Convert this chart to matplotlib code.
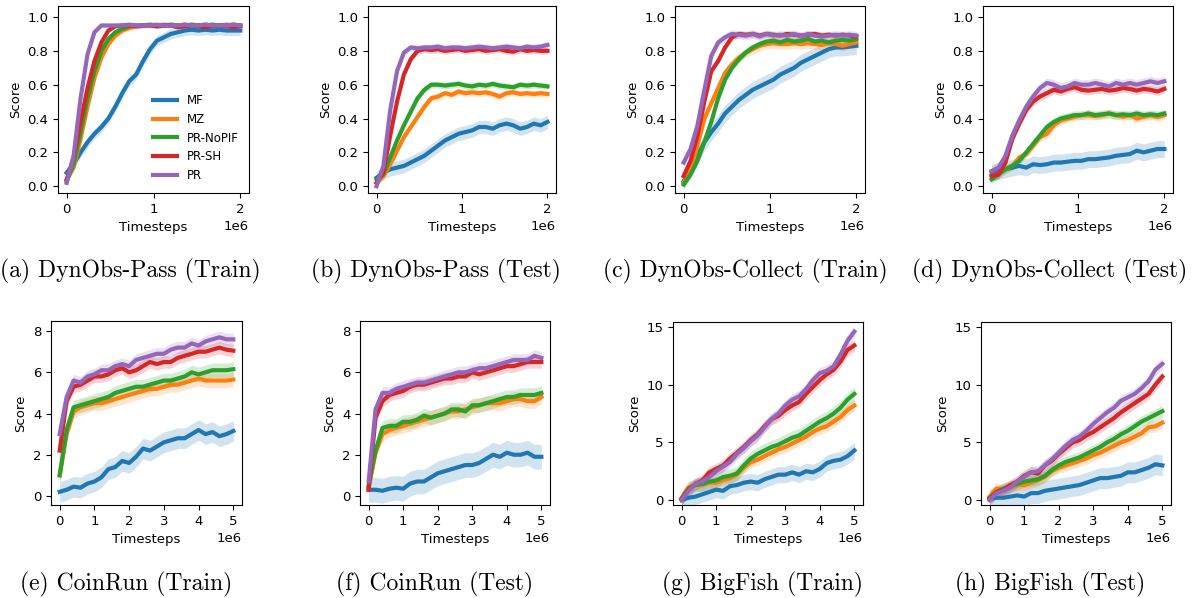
import matplotlib
matplotlib.use("Agg")
import matplotlib.pyplot as plt
import numpy as np

# ---------------- data ----------------
methods = ["MF", "MZ", "PR-NoPIF", "PR-SH", "PR"]
colors = ["#1f77b4", "#ff7f0e", "#2ca02c", "#d62728", "#9467bd"]

t_short = np.linspace(0, 2e6, 26)   # DynObs panels
t_long = np.linspace(0, 5e6, 26)    # Procgen panels

# (a) DynObs-Pass (Train)
a_mf = [0.08, 0.13, 0.20, 0.26, 0.31, 0.35, 0.40, 0.47, 0.55, 0.62, 0.66, 0.74, 0.81,
        0.86, 0.88, 0.90, 0.91, 0.92, 0.925, 0.92, 0.925, 0.92, 0.925, 0.92, 0.92, 0.92]
a_mz = [0.04, 0.11, 0.28, 0.47, 0.64, 0.76, 0.84, 0.89, 0.92, 0.935, 0.945, 0.95, 0.95,
        0.95, 0.955, 0.95, 0.95, 0.955, 0.95, 0.95, 0.955, 0.95, 0.95, 0.955, 0.95, 0.95]
a_nopif = [0.03, 0.13, 0.32, 0.52, 0.68, 0.80, 0.87, 0.91, 0.93, 0.945, 0.95, 0.95, 0.955,
           0.95, 0.95, 0.955, 0.95, 0.95, 0.955, 0.95, 0.95, 0.955, 0.95, 0.95, 0.955, 0.95]
a_sh = [0.04, 0.17, 0.38, 0.58, 0.74, 0.85, 0.92, 0.945, 0.95, 0.95, 0.945, 0.95, 0.95,
        0.945, 0.95, 0.95, 0.94, 0.945, 0.95, 0.945, 0.94, 0.945, 0.95, 0.945, 0.94, 0.945]
a_pr = [0.02, 0.18, 0.52, 0.78, 0.91, 0.95, 0.95, 0.95, 0.95, 0.955, 0.95, 0.95, 0.95,
        0.955, 0.95, 0.95, 0.95, 0.955, 0.95, 0.95, 0.955, 0.95, 0.95, 0.95, 0.955, 0.95]
a_band = [0.03, 0.015, 0.015, 0.012, 0.012]

# (b) DynObs-Pass (Test)
b_mf = [0.05, 0.08, 0.10, 0.11, 0.12, 0.14, 0.16, 0.18, 0.21, 0.24, 0.27, 0.29, 0.31,
        0.32, 0.33, 0.35, 0.35, 0.34, 0.36, 0.37, 0.36, 0.34, 0.35, 0.37, 0.36, 0.38]
b_mz = [0.02, 0.06, 0.13, 0.21, 0.29, 0.35, 0.41, 0.47, 0.52, 0.53, 0.55, 0.54, 0.56,
        0.55, 0.555, 0.55, 0.555, 0.545, 0.53, 0.55, 0.555, 0.545, 0.55, 0.545, 0.55, 0.545]
b_nopif = [0.04, 0.07, 0.17, 0.27, 0.36, 0.44, 0.52, 0.57, 0.60, 0.60, 0.595, 0.60, 0.605,
           0.595, 0.59, 0.60, 0.595, 0.605, 0.595, 0.59, 0.585, 0.60, 0.595, 0.60, 0.595, 0.59]
b_sh = [0.02, 0.08, 0.30, 0.50, 0.66, 0.75, 0.80, 0.81, 0.805, 0.81, 0.80, 0.805, 0.81,
        0.80, 0.805, 0.81, 0.80, 0.805, 0.81, 0.80, 0.795, 0.81, 0.80, 0.805, 0.80, 0.80]
b_pr = [0.00, 0.12, 0.45, 0.68, 0.79, 0.82, 0.815, 0.82, 0.82, 0.825, 0.815, 0.82, 0.82,
        0.815, 0.82, 0.825, 0.82, 0.815, 0.82, 0.825, 0.82, 0.815, 0.825, 0.82, 0.825, 0.835]
b_band = [0.04, 0.02, 0.02, 0.02, 0.02]

# (c) DynObs-Collect (Train)
c_mf = [0.03, 0.10, 0.18, 0.26, 0.32, 0.37, 0.43, 0.47, 0.51, 0.54, 0.57, 0.59, 0.61,
        0.63, 0.66, 0.68, 0.70, 0.73, 0.75, 0.77, 0.79, 0.81, 0.82, 0.82, 0.825, 0.83]
c_mz = [0.02, 0.10, 0.24, 0.40, 0.49, 0.58, 0.67, 0.72, 0.76, 0.79, 0.81, 0.83, 0.84,
        0.845, 0.84, 0.84, 0.845, 0.84, 0.845, 0.84, 0.835, 0.845, 0.84, 0.83, 0.84, 0.85]
c_nopif = [0.01, 0.07, 0.15, 0.26, 0.38, 0.52, 0.63, 0.70, 0.75, 0.79, 0.82, 0.84, 0.855,
           0.86, 0.85, 0.865, 0.855, 0.86, 0.87, 0.855, 0.86, 0.85, 0.86, 0.865, 0.86, 0.87]
c_sh = [0.06, 0.15, 0.30, 0.50, 0.68, 0.74, 0.82, 0.88, 0.90, 0.895, 0.90, 0.89, 0.90,
        0.895, 0.89, 0.90, 0.895, 0.89, 0.895, 0.90, 0.89, 0.895, 0.89, 0.895, 0.89, 0.885]
c_pr = [0.14, 0.22, 0.36, 0.57, 0.77, 0.85, 0.88, 0.90, 0.895, 0.89, 0.90, 0.885, 0.90,
        0.89, 0.895, 0.89, 0.90, 0.885, 0.90, 0.89, 0.885, 0.89, 0.895, 0.89, 0.895, 0.89]
c_band = [0.05, 0.03, 0.02, 0.02, 0.025]

# (d) DynObs-Collect (Test)
d_mf = [0.08, 0.09, 0.10, 0.11, 0.12, 0.11, 0.13, 0.125, 0.13, 0.14, 0.14, 0.145, 0.15,
        0.15, 0.16, 0.16, 0.165, 0.17, 0.18, 0.185, 0.19, 0.21, 0.20, 0.21, 0.22, 0.22]
d_mz = [0.06, 0.07, 0.10, 0.12, 0.17, 0.19, 0.24, 0.29, 0.31, 0.36, 0.39, 0.40, 0.41,
        0.42, 0.42, 0.415, 0.42, 0.43, 0.42, 0.41, 0.42, 0.40, 0.41, 0.42, 0.41, 0.42]
d_nopif = [0.04, 0.07, 0.10, 0.12, 0.15, 0.20, 0.25, 0.30, 0.35, 0.38, 0.40, 0.41, 0.42,
           0.42, 0.43, 0.42, 0.425, 0.43, 0.42, 0.425, 0.42, 0.43, 0.42, 0.425, 0.42, 0.43]
d_sh = [0.06, 0.07, 0.14, 0.28, 0.37, 0.45, 0.50, 0.53, 0.55, 0.57, 0.56, 0.575, 0.585,
        0.57, 0.565, 0.57, 0.575, 0.565, 0.57, 0.58, 0.575, 0.565, 0.575, 0.57, 0.56, 0.575]
d_pr = [0.09, 0.11, 0.18, 0.30, 0.39, 0.47, 0.53, 0.58, 0.61, 0.60, 0.58, 0.59, 0.61,
        0.60, 0.60, 0.61, 0.60, 0.59, 0.61, 0.60, 0.61, 0.60, 0.61, 0.62, 0.61, 0.62]
d_band = [0.05, 0.025, 0.025, 0.025, 0.03]

# (e) CoinRun (Train)
e_mf = [0.2, 0.3, 0.45, 0.4, 0.6, 0.7, 0.9, 1.3, 1.4, 1.7, 1.6, 1.9, 2.3,
        2.2, 2.4, 2.6, 2.7, 2.8, 2.8, 3.0, 3.2, 3.0, 3.1, 2.9, 3.0, 3.15]
e_mz = [1.0, 3.0, 4.1, 4.3, 4.4, 4.5, 4.5, 4.6, 4.7, 4.8, 4.9, 5.0, 5.1,
        5.2, 5.2, 5.3, 5.4, 5.4, 5.5, 5.6, 5.7, 5.6, 5.6, 5.6, 5.6, 5.65]
e_nopif = [1.0, 3.2, 4.3, 4.4, 4.5, 4.6, 4.7, 4.8, 5.0, 5.1, 5.2, 5.3, 5.3,
           5.4, 5.5, 5.6, 5.6, 5.7, 5.8, 6.0, 5.9, 6.0, 6.1, 6.1, 6.1, 6.15]
e_sh = [2.2, 4.6, 5.3, 5.4, 5.6, 5.8, 5.8, 5.9, 6.1, 6.2, 6.0, 6.1, 6.3,
        6.5, 6.4, 6.5, 6.5, 6.7, 6.8, 6.9, 7.0, 7.0, 7.1, 7.2, 7.1, 7.05]
e_pr = [3.0, 4.8, 5.6, 5.5, 5.8, 5.9, 6.1, 6.1, 6.3, 6.4, 6.3, 6.6, 6.7,
        6.8, 6.9, 6.9, 7.1, 7.2, 7.2, 7.4, 7.3, 7.5, 7.6, 7.7, 7.6, 7.6]
e_band = [0.5, 0.35, 0.35, 0.3, 0.3]

# (f) CoinRun (Test)
f_mf = [0.3, 0.3, 0.25, 0.35, 0.4, 0.35, 0.6, 0.7, 0.7, 0.9, 1.1, 1.2, 1.3,
        1.4, 1.5, 1.5, 1.6, 1.8, 2.0, 1.9, 2.1, 2.0, 2.0, 2.1, 1.9, 1.9]
f_mz = [0.4, 2.1, 3.0, 3.2, 3.3, 3.4, 3.5, 3.6, 3.7, 3.8, 3.9, 4.0, 4.1,
        4.1, 4.2, 4.3, 4.4, 4.5, 4.5, 4.5, 4.6, 4.7, 4.7, 4.6, 4.6, 4.8]
f_nopif = [0.5, 2.2, 3.3, 3.4, 3.4, 3.6, 3.6, 3.7, 3.9, 3.8, 3.9, 4.0, 4.2,
           4.2, 4.1, 4.4, 4.4, 4.5, 4.6, 4.7, 4.8, 4.8, 4.9, 4.9, 4.9, 5.0]
f_sh = [0.3, 3.8, 4.6, 4.9, 5.0, 5.1, 5.3, 5.4, 5.4, 5.5, 5.6, 5.7, 5.7,
        5.8, 5.8, 6.0, 5.9, 6.0, 6.1, 6.2, 6.3, 6.3, 6.4, 6.5, 6.5, 6.5]
f_pr = [0.7, 4.2, 5.0, 5.0, 5.2, 5.3, 5.4, 5.5, 5.5, 5.6, 5.7, 5.8, 5.9,
        6.0, 6.0, 6.1, 6.2, 6.2, 6.3, 6.4, 6.5, 6.6, 6.6, 6.6, 6.8, 6.7]
f_band = [0.6, 0.35, 0.35, 0.3, 0.3]

# (g) BigFish (Train)
g_mf = [0.0, 0.2, 0.3, 0.5, 0.7, 0.9, 0.8, 1.2, 1.3, 1.5, 1.6, 1.5, 1.8,
        2.0, 2.2, 2.2, 2.4, 2.2, 2.5, 2.4, 2.7, 3.2, 3.4, 3.5, 3.8, 4.3]
g_mz = [0.2, 1.1, 1.3, 1.3, 1.5, 1.5, 1.7, 1.9, 2.2, 2.8, 3.3, 3.5, 3.8,
        4.1, 4.4, 4.6, 4.9, 5.2, 5.5, 5.9, 6.2, 6.4, 6.8, 7.2, 7.8, 8.2]
g_nopif = [0.1, 1.0, 1.3, 1.4, 1.6, 1.7, 2.0, 2.1, 2.3, 3.0, 3.6, 4.0, 4.3,
           4.6, 4.8, 5.1, 5.4, 5.6, 6.0, 6.4, 6.8, 7.1, 7.5, 8.0, 8.7, 9.2]
g_sh = [0.1, 0.9, 1.4, 1.7, 2.4, 2.7, 3.0, 3.6, 4.1, 4.6, 5.2, 5.7, 6.4,
        7.0, 7.3, 7.8, 8.2, 8.5, 9.2, 9.8, 10.4, 10.9, 11.3, 12.0, 13.0, 13.4]
g_pr = [0.0, 0.8, 1.4, 1.6, 2.0, 2.5, 2.9, 3.3, 4.0, 4.5, 5.1, 5.6, 6.3,
        7.0, 7.5, 8.2, 8.7, 9.0, 9.6, 10.4, 11.0, 11.2, 11.6, 12.6, 13.8, 14.6]
g_band = [0.7, 0.5, 0.6, 0.5, 0.5]

# (h) BigFish (Test)
h_mf = [0.1, 0.2, 0.2, 0.3, 0.4, 0.3, 0.6, 0.6, 0.8, 0.9, 1.0, 1.1, 1.2,
        1.3, 1.5, 1.7, 1.9, 1.9, 2.0, 2.1, 2.4, 2.4, 2.6, 2.8, 3.1, 3.0]
h_mz = [0.3, 1.0, 0.9, 1.1, 1.3, 1.3, 1.5, 1.7, 2.0, 2.5, 2.8, 3.0, 3.2,
        3.4, 3.6, 3.9, 4.1, 4.4, 4.7, 5.0, 5.2, 5.5, 5.8, 6.3, 6.4, 6.7]
h_nopif = [0.2, 0.7, 1.0, 1.2, 1.4, 1.6, 1.7, 1.8, 2.1, 2.6, 3.0, 3.3, 3.5,
           3.7, 4.0, 4.3, 4.6, 5.0, 5.3, 5.7, 6.0, 6.4, 6.8, 7.1, 7.4, 7.7]
h_sh = [0.1, 0.7, 0.9, 1.3, 1.6, 2.1, 2.4, 2.3, 3.0, 3.4, 4.0, 4.5, 5.0,
        5.2, 5.6, 5.9, 6.3, 6.7, 7.1, 7.6, 8.0, 8.4, 8.8, 9.2, 10.0, 10.7]
h_pr = [0.0, 0.6, 0.8, 1.1, 1.6, 2.0, 2.4, 2.5, 3.0, 3.5, 4.1, 4.7, 5.2,
        5.5, 6.0, 6.6, 7.1, 7.6, 8.0, 8.6, 8.9, 9.2, 9.7, 10.3, 11.3, 11.8]
h_band = [0.9, 0.5, 0.5, 0.5, 0.5]

captions = ["(a) DynObs-Pass (Train)", "(b) DynObs-Pass (Test)",
            "(c) DynObs-Collect (Train)", "(d) DynObs-Collect (Test)",
            "(e) CoinRun (Train)", "(f) CoinRun (Test)",
            "(g) BigFish (Train)", "(h) BigFish (Test)"]

# ---------------- layout (pixel boxes of the axes) ----------------
W, H = 1194, 598
boxes = [(58, 6, 249, 193), (368, 6, 556, 193), (675, 6, 865, 193), (983, 6, 1173, 193),
         (51, 321, 242, 505), (360, 321, 550, 505), (673, 322, 863, 505), (981, 322, 1171, 505)]
cap_pos = [(130, 271), (436, 271), (745, 271), (1050, 271),
           (126, 584), (435, 584), (762, 584), (1050, 584)]

panels = [
    (t_short, [a_mf, a_mz, a_nopif, a_sh, a_pr], a_band, (-0.04, 1.065), np.arange(0, 1.01, 0.2)),
    (t_short, [b_mf, b_mz, b_nopif, b_sh, b_pr], b_band, (-0.04, 1.065), np.arange(0, 1.01, 0.2)),
    (t_short, [c_mf, c_mz, c_nopif, c_sh, c_pr], c_band, (-0.04, 1.065), np.arange(0, 1.01, 0.2)),
    (t_short, [d_mf, d_mz, d_nopif, d_sh, d_pr], d_band, (-0.04, 1.065), np.arange(0, 1.01, 0.2)),
    (t_long, [e_mf, e_mz, e_nopif, e_sh, e_pr], e_band, (-0.44, 8.49), [0, 2, 4, 6, 8]),
    (t_long, [f_mf, f_mz, f_nopif, f_sh, f_pr], f_band, (-0.44, 8.49), [0, 2, 4, 6, 8]),
    (t_long, [g_mf, g_mz, g_nopif, g_sh, g_pr], g_band, (-0.43, 15.43), [0, 5, 10, 15]),
    (t_long, [h_mf, h_mz, h_nopif, h_sh, h_pr], h_band, (-0.43, 15.43), [0, 5, 10, 15]),
]

plt.rcParams['font.size'] = 9.5
fig = plt.figure(figsize=(W / 100, H / 100), dpi=100)

for k, (t, series, band, ylim, yticks) in enumerate(panels):
    x0, y0, x1, y1 = boxes[k]
    ax = fig.add_axes([x0 / W, 1 - y1 / H, (x1 - x0) / W, (y1 - y0) / H])
    for name, col, ys, b in zip(methods, colors, series, band):
        ys = np.array(ys)
        ax.fill_between(t, ys - b, ys + b, color=col, alpha=0.2, lw=0)
        ax.plot(t, ys, color=col, lw=3, label=name)
    ax.set_ylim(*ylim)
    ax.set_yticks(yticks)
    if k < 4:
        ax.set_xticks([0, 1e6, 2e6])
    else:
        ax.set_xticks([0, 1e6, 2e6, 3e6, 4e6, 5e6])
    ax.set_xlabel("Timesteps")
    ax.set_ylabel("Score")
    if k == 0:
        ax.legend(loc="lower right", frameon=False, fontsize=8.5)
    cx, cy = cap_pos[k]
    fig.text(cx / W, 1 - cy / H, captions[k], ha="center", va="center",
             fontsize=17, family="cmr10")

fig.savefig("out.png", dpi=100)
